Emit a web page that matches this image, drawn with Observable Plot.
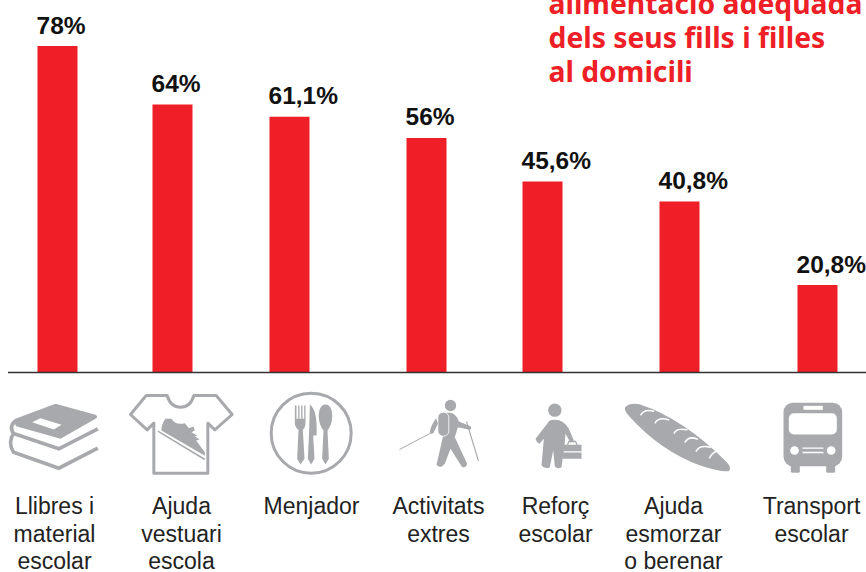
<!DOCTYPE html>
<html>
<head>
<meta charset="utf-8">
<style>html,body{margin:0;padding:0;background:#fff}svg{display:block}</style>
<script src="https://cdn.jsdelivr.net/npm/d3@7"></script>
<script src="https://cdn.jsdelivr.net/npm/@observablehq/plot@0.6"></script>
</head>
<body>
<script>
const categories = ["Llibres i\nmaterial\nescolar","Ajuda\nvestuari\nescola","Menjador","Activitats\nextres","Reforç\nescolar","Ajuda\nesmorzar\no berenar","Transport\nescolar"];
const values = [78,64,61.1,56,45.6,40.8,20.8];
const valueLabels = ["78%","64%","61,1%","56%","45,6%","40,8%","20,8%"];
const titleLines = ["alimentació adequada","dels seus fills i filles","al domicili"];
const GREY = "#a7a9ac", RED = "#ee1f26", W = "#fff";

const icons = [
 ["-18 15 360 300", `<g transform="translate(15,45)"><path fill="${GREY}" d="M30 70L150 25L270 58Q280 63 270 70L165 130L32 92Q24 82 30 70Z"/><path fill="${W}" d="M80 80L105 68L168 88L145 102Z"/><path fill="none" stroke="${GREY}" stroke-width="11" d="M34 74Q8 90 24 114L160 160L277 100"/><path fill="none" stroke="${GREY}" stroke-width="11" d="M24 114Q6 140 24 170L160 218L277 158"/></g>`],
 ["363 15 360 300", `<g transform="translate(375,30)"><path fill="none" stroke="${GREY}" stroke-width="9" stroke-linejoin="round" d="M62 15L15 72L65 118L85 98V248H247V98L268 118L320 72L272 15H205Q195 50 165 50Q135 50 125 15Z"/><path fill="${GREY}" d="M108 112Q113 92 120 85L138 85Q150 105 178 98L190 113L204 108L208 120L198 125L215 135L208 137L222 147L212 150L238 185V196L108 120Z"/><path fill="none" stroke="${GREY}" stroke-width="4.5" d="M97 122L238 207"/></g>`],
 ["753 15 360 300", `<circle cx="932" cy="158" r="120" fill="none" stroke="${GREY}" stroke-width="9"/><path fill="${GREY}" d="M883 75H888V115H893V75H897V115H902V75H906V115H911V75H915V125Q915 140 907 148L912 235L900 252L890 235L894 148Q883 140 883 125Z"/><path fill="${GREY}" d="M928 72Q952 90 948 165L938 165L942 235L932 252L922 235L926 150Z"/><path fill="${GREY}" d="M975 72C992 72 996 95 995 112C993 135 985 145 981 150L985 235L975 252L965 235L969 150C965 145 957 135 955 112C954 95 958 72 975 72Z"/>`],
 ["-165 15 360 300", `<g transform="translate(-114,45)"><circle cx="165" cy="30" r="17" fill="${GREY}"/><path fill="${GREY}" d="M160 52Q180 50 190 78L225 92Q230 100 222 103L187 95L178 125L215 205Q212 218 200 215L165 160L148 205Q135 222 123 208L142 125L146 52Z"/><rect x="127" y="50" width="33" height="72" rx="16" fill="${GREY}" stroke="${W}" stroke-width="2.5"/><path fill="none" stroke="${GREY}" stroke-width="3.5" d="M213 78L249 197"/><path fill="none" stroke="${GREY}" stroke-width="3" d="M12 162L105 113"/><path fill="${GREY}" d="M122 68Q105 90 103 110Q108 120 115 110L127 85Z"/></g>`],
 ["186 15 360 300", `<g transform="translate(-114,45)"><circle cx="478" cy="44" r="20" fill="${GREY}"/><path fill="${GREY}" d="M462 75Q500 65 520 100L535 135L525 142L510 115L507 150L498 215Q485 222 478 212L473 165L463 215Q450 222 438 210L445 130L432 145Q422 140 420 130L455 85Z"/><path fill="${GREY}" d="M502 148H558V167H502ZM502 171H558V190H502Z"/><path fill="none" stroke="${GREY}" stroke-width="4" d="M516 148L520 138H540L545 148"/></g>`],
 ["540 15 360 300", `<path fill="${GREY}" d="M575 80Q590 65 620 72Q750 115 880 245Q897 265 885 272Q860 275 800 255Q680 210 590 110Q570 90 575 80Z"/><g fill="none" stroke="${W}" stroke-width="4.5" stroke-linecap="round"><path d="M622 103Q632 85 660 92"/><path d="M665 127Q675 108 705 118"/><path d="M722 158Q730 142 760 148"/><path d="M755 185Q765 165 792 176"/><path d="M788 212Q798 192 830 200"/><path d="M828 232Q835 218 852 210"/></g>`],
 ["954 15 360 300", `<rect x="1072" y="245" width="27" height="32" rx="5" fill="${GREY}"/><rect x="1178" y="245" width="27" height="32" rx="5" fill="${GREY}"/><rect x="1050" y="67" width="176" height="190" rx="28" fill="${GREY}"/><rect x="1110" y="76" width="58" height="12" fill="${W}"/><rect x="1066" y="98" width="144" height="64" rx="15" fill="${W}"/><circle cx="1083" cy="210" r="13" fill="${W}"/><circle cx="1193" cy="210" r="13" fill="${W}"/><path stroke="${W}" stroke-width="4" d="M1107 203H1170M1107 216H1170"/>`]
];
const iconSrc = ([vb, body]) => "data:image/svg+xml," + encodeURIComponent(`<svg xmlns="http://www.w3.org/2000/svg" viewBox="${vb}" width="120" height="100">${body}</svg>`);

// One column per category; the bars and the captions sit on separate knots of the x scale.
const barRows = categories.map((c,i) => ({c, v: values[i], label: valueLabels[i], slot: i}));
const capRows = categories.map((c,i) => ({c, icon: iconSrc(icons[i]), slot: i + categories.length}));

const chart = Plot.plot({
  width: 866, height: 572,
  marginTop: 0, marginRight: 0, marginBottom: 0, marginLeft: 8,
  style: {background: "#fff", overflow: "hidden"},
  x: {axis: null, domain: [0,13], interpolate: d3.piecewise(d3.interpolateNumber, [57,172,289,426,542,679,817, 54,181,311,438,555,673,811])},
  y: {axis: null, domain: [0,78], range: [372,46]},
  marks: [
    Plot.ruleX(barRows, {x: "slot", y1: 0, y2: "v", stroke: RED, strokeWidth: 40}),
    Plot.ruleY([0], {stroke: "#333", strokeWidth: 1.3}),
    Plot.text(barRows, {x: "slot", y: "v", text: "label", textAnchor: "start", lineAnchor: "bottom", dx: -21, dy: -13,
      fontFamily: "Liberation Sans", fontWeight: 700, fontSize: 24.5, fill: "#111"}),
    Plot.image(capRows, {x: "slot", src: "icon", width: 120, height: 100, frameAnchor: "top", dy: 435, preserveAspectRatio: "xMidYMid meet"}),
    Plot.text(capRows, {x: "slot", text: "c", frameAnchor: "top", lineAnchor: "top", dy: 494, lineHeight: 1.196,
      fontFamily: "Liberation Sans", fontSize: 23, fill: "#222"}),
    Plot.text([titleLines.join("\n")], {frameAnchor: "top-left", textAnchor: "start", lineAnchor: "top", dx: 540, dy: -11, lineHeight: 1.2,
      fontFamily: "Noto Sans", fontWeight: 700, fontSize: 28.3, fill: RED})
  ]
});
document.body.appendChild(chart);
</script>
</body>
</html>
